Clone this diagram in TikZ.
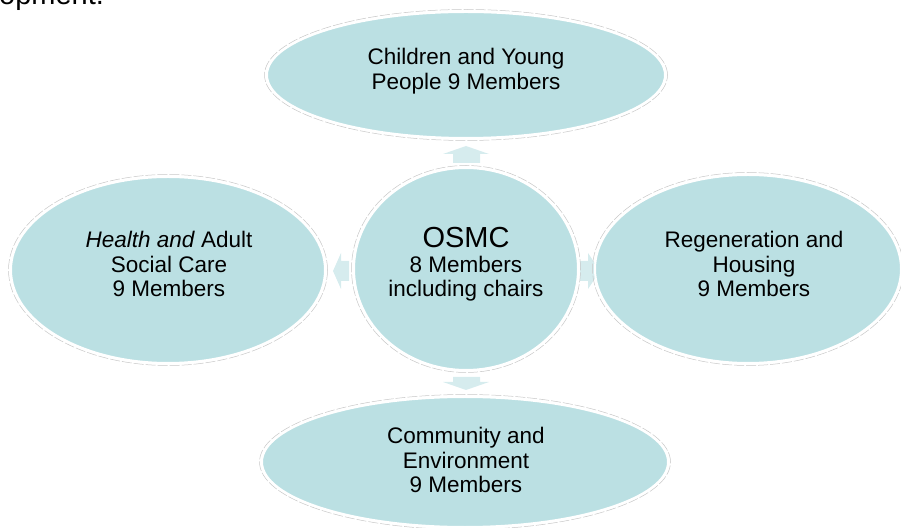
\documentclass[tikz,border=0pt]{standalone}
\usepackage{fontspec}
\setmainfont{Liberation Sans}
\usetikzlibrary{shapes.geometric}
\definecolor{bubble}{RGB}{187,224,227}
\definecolor{arrowc}{RGB}{214,236,238}
\tikzset{
  bubble/.style={ellipse, fill=bubble, draw=white, line width=2pt, inner sep=0pt},
  rim/.style={ellipse, draw=black!22, line width=0.5pt, dash pattern=on 10pt off 2pt, inner sep=0pt, fill=none},
  label/.style={align=center, inner sep=0pt, font=\fontsize{22.5}{24.5}\selectfont},
  blockarrow/.style={fill=arrowc, draw=none}
}
\begin{document}
\begin{tikzpicture}[x=1pt,y=1pt]
\useasboundingbox (0,0) rectangle (901,527);
\clip (0,0) rectangle (901,527);
% cut-off text above
\node[anchor=base west, inner sep=0pt, font=\fontsize{29}{32}\selectfont] (prev) at (-1,522) {opment.};
% block arrows (drawn below the bubbles)
\fill[blockarrow] (453,364) -- (480,364) -- (480,373) -- (489,373) -- (466,381) -- (443,373) -- (453,373) -- cycle;
\fill[blockarrow] (453,150) -- (480,150) -- (480,145) -- (489,145) -- (466,137) -- (443,145) -- (453,145) -- cycle;
\fill[blockarrow] (349,246) -- (349,266) -- (341,266) -- (341,274) -- (333,256) -- (341,238) -- (341,246) -- cycle;
\fill[blockarrow] (580,246) -- (580,266) -- (588,266) -- (588,274) -- (600,256) -- (588,238) -- (588,246) -- cycle;
% bubbles
\node[rim, minimum width=403pt, minimum height=131pt] (cyprim) at (466,452) {};
\node[bubble, minimum width=398pt, minimum height=126pt] (cyp) at (466,452) {};
\node[rim, minimum width=229pt, minimum height=207pt] (osmcrim) at (466,258) {};
\node[bubble, minimum width=224pt, minimum height=202pt] (osmc) at (466,258) {};
\node[rim, minimum width=319pt, minimum height=191pt] (hascrim) at (168,257) {};
\node[bubble, minimum width=314pt, minimum height=186pt] (hasc) at (168,257) {};
\node[rim, minimum width=311pt, minimum height=193pt] (reghrim) at (748,258) {};
\node[bubble, minimum width=306pt, minimum height=188pt] (regh) at (748,258) {};
\node[rim, minimum width=411pt, minimum height=135pt] (comerim) at (465,65) {};
\node[bubble, minimum width=406pt, minimum height=130pt] (come) at (465,65) {};
% texts
\node[label] (cyptext) at ([yshift=4pt]cyp.center) {Children and Young\\People 9 Members};
\node[label] (osmctext) at ([yshift=4.5pt]osmc.center) {{\fontsize{29}{30}\selectfont OSMC}\\8 Members\\including chairs};
\node[label] (hasctext) at ([xshift=1pt,yshift=6pt]hasc.center) {\textit{Health and} Adult\\Social Care\\9 Members};
\node[label] (reghtext) at ([xshift=6pt,yshift=5pt]regh.center) {Regeneration and\\Housing\\9 Members};
\node[label] (cometext) at ([xshift=1pt,yshift=2pt]come.center) {Community and\\Environment\\9 Members};
\end{tikzpicture}
\end{document}
